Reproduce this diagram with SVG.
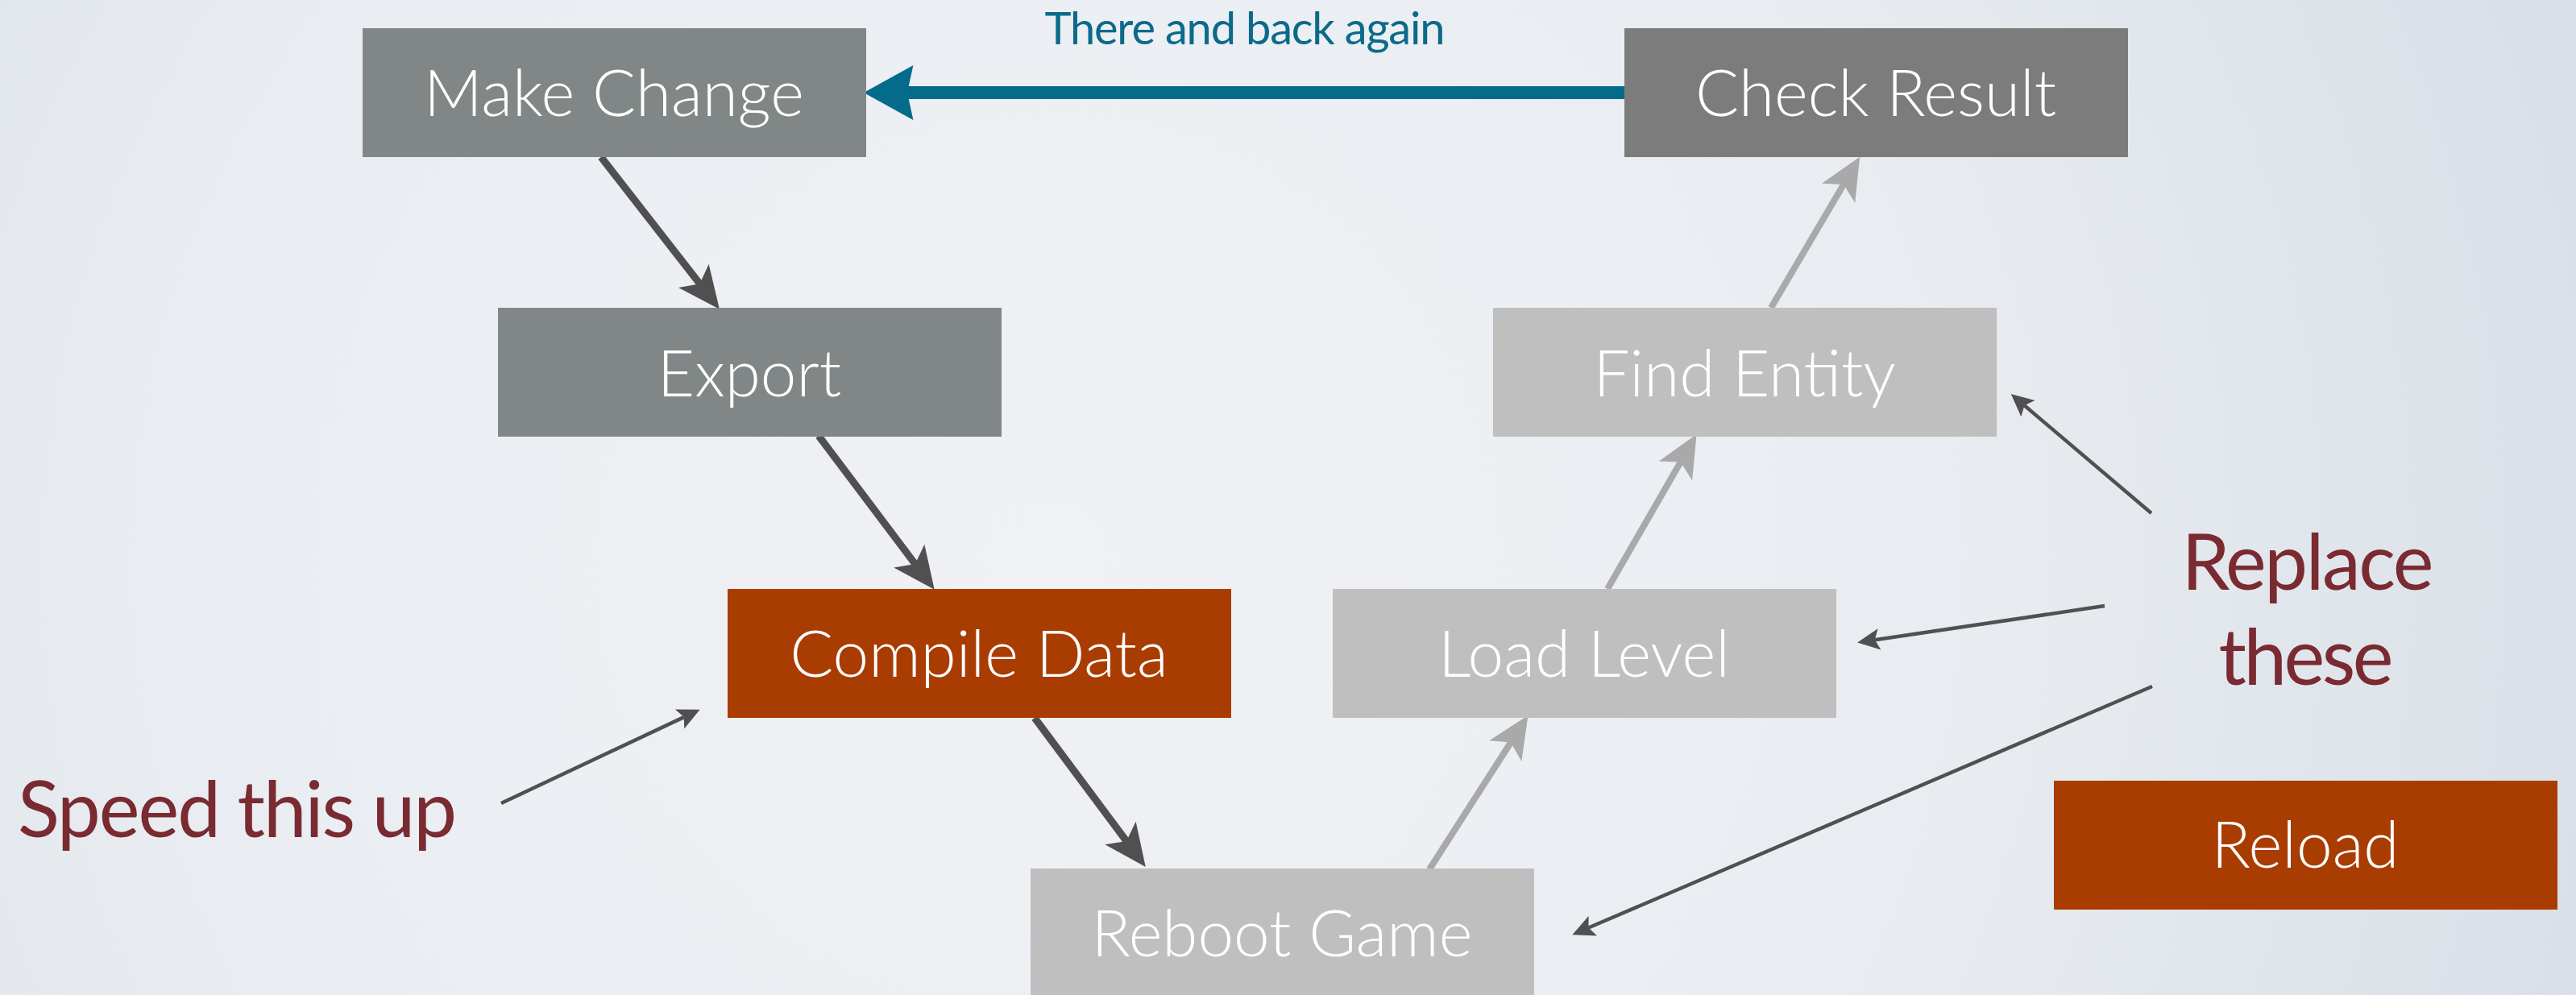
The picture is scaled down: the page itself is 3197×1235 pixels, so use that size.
<svg xmlns="http://www.w3.org/2000/svg" width="3197" height="1235" viewBox="0 0 3197 1235">
  <style>
    .box-text { font-family: Lato, "Liberation Sans", sans-serif; font-weight: 300; font-size: 80px; fill: #ffffff; text-anchor: middle; }
    .note { font-family: Lato, "Liberation Sans", sans-serif; font-weight: 400; font-size: 96px; fill: #7a2a31; }
    .title { font-family: Lato, "Liberation Sans", sans-serif; font-weight: 400; font-size: 56px; fill: #0b6a89; text-anchor: middle; }
    .main { fill: none; stroke: #505050; stroke-width: 9; }
    .light { fill: none; stroke: #a9a9a9; stroke-width: 8; }
    .thin { fill: none; stroke: #505050; stroke-width: 4.5; }
    .back { fill: none; stroke: #046b8a; stroke-width: 16; }
    .grey-dark { fill: #818786; }
    .grey-mid { fill: #7c7c7c; }
    .grey-light { fill: #bfbfbf; }
    .rust { fill: #a93c00; }
  </style>
  <defs>
    <radialGradient id="bg" cx="1300" cy="700" r="2000" gradientUnits="userSpaceOnUse">
      <stop offset="0" stop-color="#f0f1f5"/>
      <stop offset="0.55" stop-color="#e9edf1"/>
      <stop offset="1" stop-color="#d9dfe7"/>
    </radialGradient>
    <marker id="head-main" markerUnits="userSpaceOnUse" markerWidth="60" markerHeight="50" viewBox="-12 -22 48 44" refX="0" refY="0" orient="auto" overflow="visible">
      <path d="M35,0 L-11,-21 L0,0 L-11,21 Z" fill="#505050"/>
    </marker>
    <marker id="head-light" markerUnits="userSpaceOnUse" markerWidth="60" markerHeight="50" viewBox="-12 -22 48 44" refX="0" refY="0" orient="auto" overflow="visible">
      <path d="M35,0 L-11,-21 L0,0 L-11,21 Z" fill="#a9a9a9"/>
    </marker>
    <marker id="head-thin" markerUnits="userSpaceOnUse" markerWidth="30" markerHeight="30" viewBox="-6 -12 26 24" refX="0" refY="0" orient="auto" overflow="visible">
      <path d="M19,0 L-5,-11.5 L0,0 L-5,11.5 Z" fill="#505050"/>
    </marker>
    <marker id="head-back" markerUnits="userSpaceOnUse" markerWidth="70" markerHeight="70" viewBox="-10 -33 62 66" refX="0" refY="0" orient="auto" overflow="visible">
      <path d="M51,0 L-7,-32 L0,0 L-7,32 Z" fill="#046b8a"/>
    </marker>
  </defs>

  <rect x="0" y="0" width="3197" height="1235" fill="url(#bg)"/>

  <!-- connectors -->
  <g id="connectors">
    <line class="back" x1="2016" y1="115" x2="1126" y2="115" marker-end="url(#head-back)"/>
    <line class="main" x1="746" y1="195" x2="868.5" y2="352.3" marker-end="url(#head-main)"/>
    <line class="main" x1="1016" y1="541" x2="1135.8" y2="700.1" marker-end="url(#head-main)"/>
    <line class="main" x1="1284" y1="891" x2="1398" y2="1044" marker-end="url(#head-main)"/>
    <line class="light" x1="1774" y1="1079" x2="1875" y2="921.5" marker-end="url(#head-light)"/>
    <line class="light" x1="1995" y1="731" x2="2085.7" y2="573.5" marker-end="url(#head-light)"/>
    <line class="light" x1="2198" y1="382" x2="2288" y2="229" marker-end="url(#head-light)"/>
    <line class="thin" x1="622" y1="997" x2="848.8" y2="890.1" marker-end="url(#head-thin)"/>
    <line class="thin" x1="2670" y1="637" x2="2512.5" y2="503.3" marker-end="url(#head-thin)"/>
    <line class="thin" x1="2612" y1="752" x2="2326.8" y2="794.2" marker-end="url(#head-thin)"/>
    <line class="thin" x1="2671" y1="852" x2="1971.5" y2="1151.5" marker-end="url(#head-thin)"/>
  </g>

  <text class="title" x="1545" y="55" textLength="497">There and back again</text>

  <g id="make-change">
    <rect class="grey-dark" x="450" y="35" width="625" height="160"/>
    <text class="box-text" x="762" y="144">Make Change</text>
  </g>
  <g id="check-result">
    <rect class="grey-mid" x="2016" y="35" width="625" height="160"/>
    <text class="box-text" x="2328" y="144">Check Result</text>
  </g>
  <g id="export">
    <rect class="grey-dark" x="618" y="382" width="625" height="160"/>
    <text class="box-text" x="930" y="492">Export</text>
  </g>
  <g id="find-entity">
    <rect class="grey-light" x="1853" y="382" width="625" height="160"/>
    <text class="box-text" x="2165" y="492">Find Entity</text>
  </g>
  <g id="compile-data">
    <rect class="rust" x="903" y="731" width="625" height="160"/>
    <text class="box-text" x="1215" y="840">Compile Data</text>
  </g>
  <g id="load-level">
    <rect class="grey-light" x="1654" y="731" width="625" height="160"/>
    <text class="box-text" x="1966" y="840">Load Level</text>
  </g>
  <g id="reboot-game">
    <rect class="grey-light" x="1279" y="1078" width="625" height="160"/>
    <text class="box-text" x="1591" y="1187">Reboot Game</text>
  </g>
  <g id="reload">
    <rect class="rust" x="2549" y="969" width="625" height="160"/>
    <text class="box-text" x="2861" y="1077">Reload</text>
  </g>

  <g id="speed-note">
    <text class="note" x="22" y="1039" textLength="545">Speed this up</text>
  </g>
  <g id="replace-note">
    <text class="note" x="2864" y="732" text-anchor="middle" textLength="313">Replace</text>
    <text class="note" x="2862" y="850" text-anchor="middle" textLength="217">these</text>
  </g>
</svg>
